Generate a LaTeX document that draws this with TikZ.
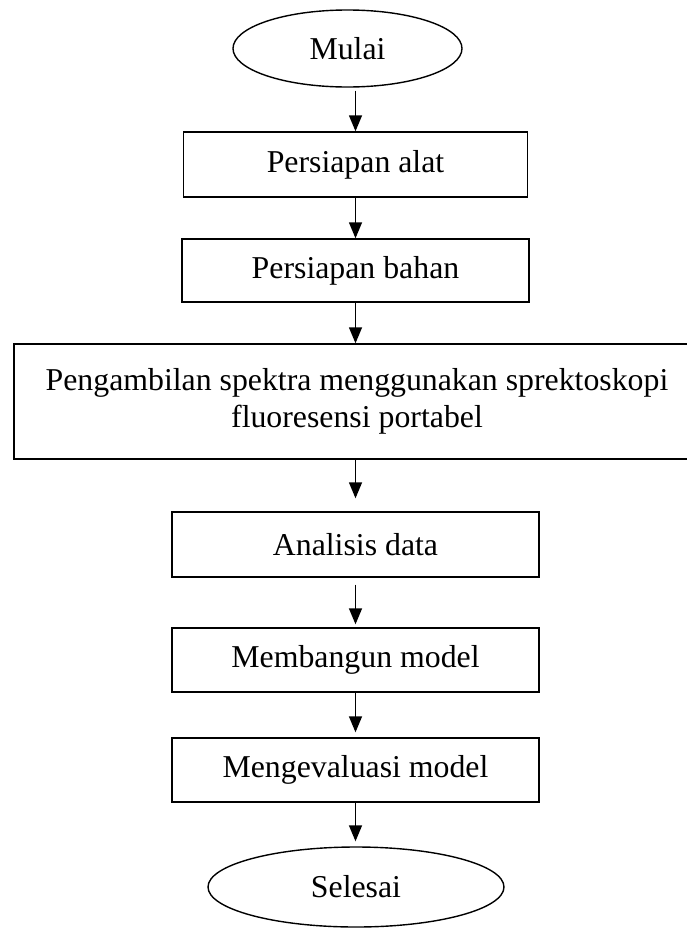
\documentclass[tikz,border=0pt]{standalone}
\usepackage{fontspec}
\setmainfont{Liberation Serif}
\usetikzlibrary{shapes.geometric,arrows.meta}
\begin{document}
\begin{tikzpicture}[x=1pt,y=-1pt,
  every node/.style={font=\fontsize{31.8pt}{37pt}\selectfont, inner sep=0pt, line width=1.4pt},
  term/.style={draw, ellipse},
  procbox/.style={draw, rectangle, align=center},
  arr/.style={-{Triangle[width=13pt,length=16pt]}, line width=1.4pt}]
\useasboundingbox (0,0) rectangle (686,929);
\node[term, minimum width=229pt, minimum height=77pt] (mulai) at (347.5,48.5) {Mulai};
\node[procbox, minimum width=344pt, minimum height=65pt] (alat) at (355.5,164.5) {Persiapan alat};
\node[procbox, minimum width=347pt, minimum height=63pt] (bahan) at (355.5,270.5) {Persiapan bahan};
\node[procbox, minimum width=686pt, minimum height=115pt] (ambil) at (357,401.5) {Pengambilan spektra menggunakan sprektoskopi\\fluoresensi portabel};
\node[procbox, minimum width=367pt, minimum height=65pt] (analisis) at (355.5,544.5) {Analisis data};
\node[procbox, minimum width=367pt, minimum height=64pt] (bangun) at (355.5,660) {Membangun model};
\node[procbox, minimum width=367pt, minimum height=64pt] (evaluasi) at (355.5,770) {Mengevaluasi model};
\node[term, minimum width=296pt, minimum height=80pt] (selesai) at (356,887) {Selesai};
\draw[arr, shorten <=3pt] (mulai.south -| alat.north) -- (alat.north);
\draw[arr] (alat.south) -- (bahan.north);
\draw[arr] (bahan.south) -- (bahan.south |- ambil.north);
\draw[arr, shorten >=13pt] (analisis.north |- ambil.south) -- (analisis.north);
\draw[arr, shorten <=7pt, shorten >=3pt] (analisis.south) -- (bangun.north);
\draw[arr, shorten >=5pt] (bangun.south) -- (evaluasi.north);
\draw[arr, shorten >=5pt] (evaluasi.south) -- (evaluasi.south |- selesai.north);
\end{tikzpicture}
\end{document}
